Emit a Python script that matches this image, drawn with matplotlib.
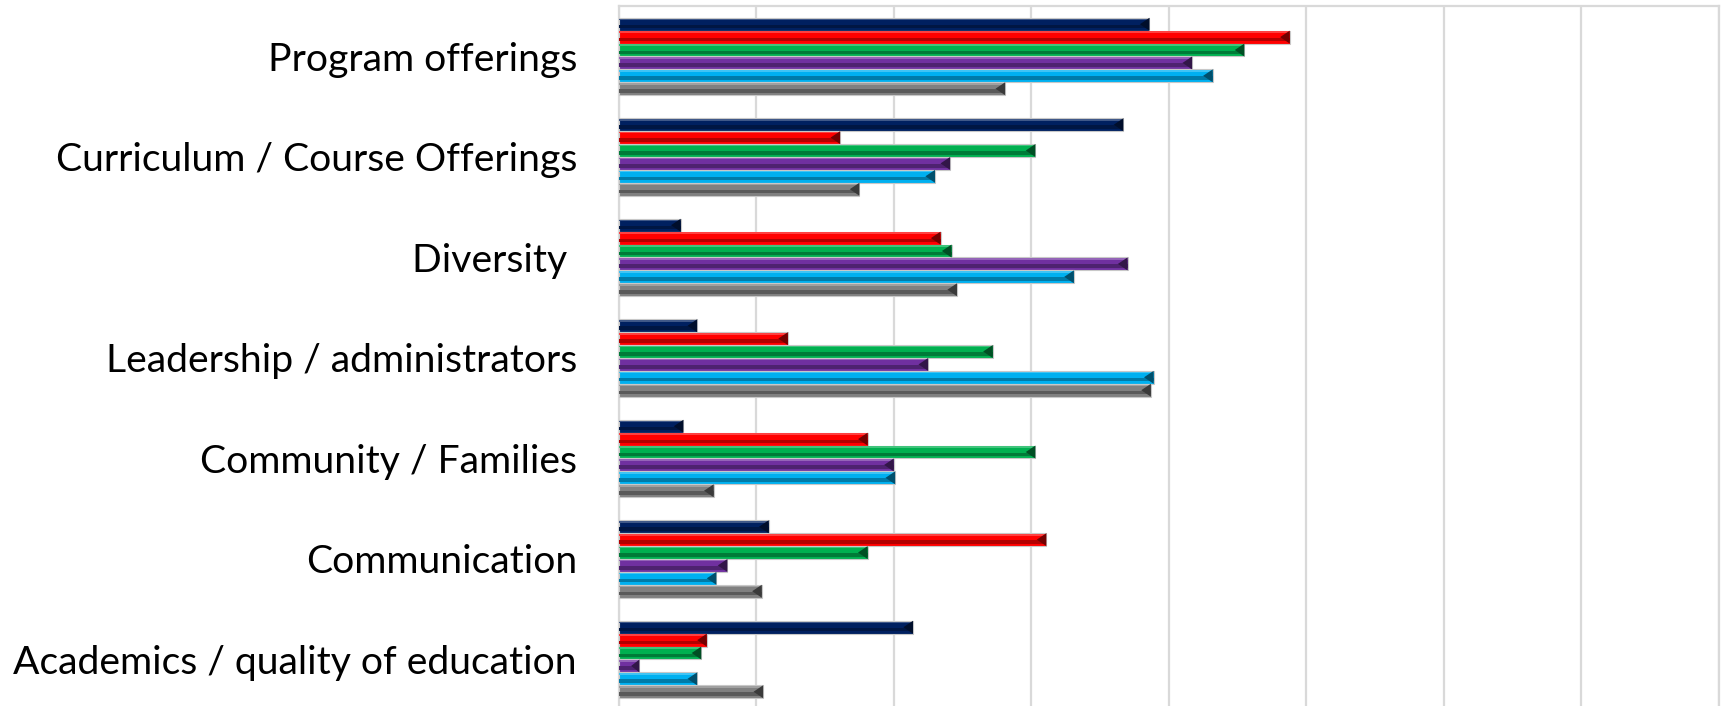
import matplotlib.pyplot as plt
from matplotlib.patches import Polygon
from matplotlib.colors import to_rgb
import numpy as np

# categories top to bottom
categories = ['Program offerings', 'Curriculum / Course Offerings', 'Diversity ',
              'Leadership / administrators', 'Community / Families', 'Communication',
              'Academics / quality of education']

# six series, drawn top to bottom within each group
series_navy = [19.3, 18.35, 2.25, 2.85, 2.35, 5.45, 10.7]
series_red = [24.4, 8.05, 11.7, 6.15, 9.05, 15.55, 3.2]
series_green = [22.75, 15.15, 12.1, 13.6, 15.15, 9.05, 3.0]
series_purple = [20.85, 12.05, 18.5, 11.25, 10.0, 3.95, 0.75]
series_cyan = [21.6, 11.5, 16.55, 19.45, 10.05, 3.55, 2.85]
series_gray = [14.05, 8.75, 12.3, 19.35, 3.45, 5.2, 5.25]

series = [series_navy, series_red, series_green, series_purple, series_cyan, series_gray]
colors = ['#002060', '#FF0000', '#00B050', '#7030A0', '#00B0F0', '#808080']


def shade(c, f):
    r, g, b = to_rgb(c)
    if f < 1:
        return (r * f, g * f, b * f)
    return (r + (1 - r) * (f - 1), g + (1 - g) * (f - 1), b + (1 - b) * (f - 1))


fig = plt.figure(figsize=(17.27, 7.06), dpi=100)
ax = fig.add_axes([0.3583, -0.0053, 0.6369, 0.9965])

n = len(series)
group_h = 0.77
bar_h = group_h / n
y0 = np.arange(len(categories))

for i, (vals, col) in enumerate(zip(series, colors)):
    y = y0 - group_h / 2 + bar_h * (i + 0.5)
    vals = np.array(vals)
    # base bar with light outline
    ax.barh(y, vals, height=bar_h, color=col, edgecolor='#c8c8c8', linewidth=0.8, zorder=3)
    # bevel: darker lower band, lighter top strip
    ax.barh(y + bar_h * 0.18, vals, height=bar_h * 0.28, color=shade(col, 0.7),
            linewidth=0, zorder=4)
    ax.barh(y - bar_h * 0.38, vals, height=bar_h * 0.12, color=shade(col, 1.25),
            linewidth=0, zorder=4)
    # dark bevel at the right end of each bar
    for v, yy in zip(vals, y):
        d = min(0.35, v * 0.4)
        tri = Polygon([(v, yy - bar_h / 2), (v, yy + bar_h / 2), (v - d, yy)],
                      closed=True, color=shade(col, 0.45), linewidth=0, zorder=5)
        ax.add_patch(tri)

ax.set_xlim(0, 40)
ax.set_ylim(len(categories) - 0.5, -0.5)
ax.set_xticks(np.arange(0, 41, 5))
ax.xaxis.grid(True, color='#d9d9d9', linewidth=1.6, zorder=0)
ax.set_axisbelow(True)
ax.tick_params(axis='x', length=0, labelbottom=False)
ax.tick_params(axis='y', length=0, pad=30)
for s in ax.spines.values():
    s.set_color('#d9d9d9')
    s.set_linewidth(1.6)
ax.spines['bottom'].set_visible(False)

ax.set_yticks(y0)
labels = ax.set_yticklabels(categories, fontfamily='Lato', fontsize=28)

# fit font size so the longest label spans ~564 px like the reference
fig.canvas.draw()
r = fig.canvas.get_renderer()
w = max(t.get_window_extent(r).width for t in labels)
for t in labels:
    t.set_fontsize(28 * 564 / w)

fig.savefig('out.png', dpi=100)
